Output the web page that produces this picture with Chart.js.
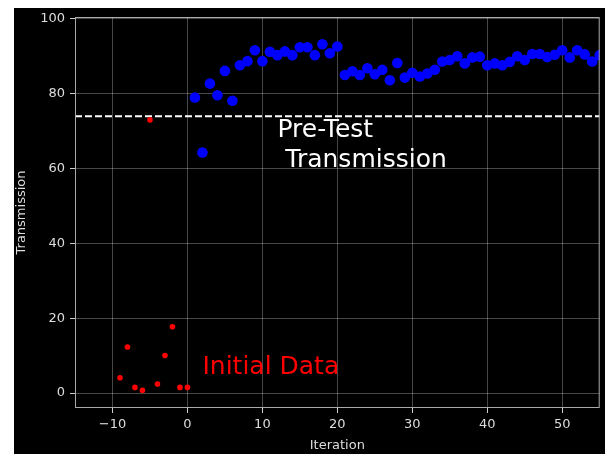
<!DOCTYPE html>
<html>
<head>
<meta charset="utf-8">
<script src="https://cdn.jsdelivr.net/npm/chart.js@4/dist/chart.umd.min.js"></script>
<style>
  body { margin: 0; background: #fff; width: 605px; height: 454px; overflow: hidden; }
  #wrap { position: absolute; left: 14px; top: 8px; width: 591px; height: 446px; background: #000; }
</style>
</head>
<body>
<div id="wrap"><canvas id="myChart" width="591" height="446"></canvas></div>
<script>
// datos iniciales (rojo)
const initialX = [-9, -8, -7, -6, -5, -4, -3, -2, -1, 0];
const initialY = [4.1, 12.3, 1.5, 0.7, 73, 2.4, 10, 17.7, 1.5, 1.5];

// iteraciones (azul)
const iterX = [1, 2, 3, 4, 5, 6, 7, 8, 9, 10, 11, 12, 13, 14, 15, 16, 17, 18, 19, 20,
  21, 22, 23, 24, 25, 26, 27, 28, 29, 30, 31, 32, 33, 34, 35, 36, 37, 38, 39, 40,
  41, 42, 43, 44, 45, 46, 47, 48, 49, 50, 51, 52, 53, 54, 55];
const iterY = [79.0, 64.3, 82.7, 79.6, 86.1, 78.1, 87.6, 88.7, 91.6, 88.7, 91.2, 90.3, 91.3, 90.3, 92.4, 92.4, 90.3, 93.2, 90.8, 92.6,
  85.0, 86.0, 85.0, 86.8, 85.2, 86.4, 83.6, 88.2, 84.3, 85.6, 84.6, 85.4, 86.4, 88.6, 89.0, 90.0, 88.1, 89.7, 89.9, 87.6,
  88.1, 87.6, 88.5, 90.0, 89.0, 90.6, 90.6, 89.8, 90.4, 91.6, 89.7, 91.6, 90.5, 88.6, 90.3];

// linea pre-test
const preTestX = [-15, 55];
const preTestY = [74, 74];

// ticks de los ejes
const xTicks = [-10, 0, 10, 20, 30, 40, 50];
const yTicks = [0, 20, 40, 60, 80, 100];

// textos
const textos = [
  { lines: ["Pre-Test", " Transmission"], x: 12, y: 60.4, color: "#ffffff" },
  { lines: ["Initial Data"], x: 2, y: 5.2, color: "#ff0000" }
];

const toPoints = (xs, ys) => xs.map((x, i) => ({ x: x, y: ys[i] }));
const conMenos = v => String(v).replace("-", "\u2212");

const FONT = "'DejaVu Sans', sans-serif";

// marco de los ejes + textos
const marcoPlugin = {
  id: "marco",
  afterDatasetsDraw(chart) {
    const { ctx, chartArea: a } = chart;
    ctx.save();
    ctx.strokeStyle = "#aaaaaa";
    ctx.lineWidth = 1;
    ctx.strokeRect(a.left + 0.5, a.top + 0.5, a.right - a.left - 1, a.bottom - a.top - 1);
    ctx.restore();
  },
  afterDraw(chart) {
    const { ctx } = chart;
    const xs = chart.scales.x, ys = chart.scales.y;
    ctx.save();
    ctx.font = "25px " + FONT;
    ctx.textBaseline = "alphabetic";
    ctx.textAlign = "left";
    textos.forEach(t => {
      ctx.fillStyle = t.color;
      const px = xs.getPixelForValue(t.x);
      const py = ys.getPixelForValue(t.y);
      const n = t.lines.length;
      t.lines.forEach((line, i) => {
        ctx.fillText(line, px, py - (n - 1 - i) * 30);
      });
    });
    ctx.restore();
  }
};

const gridOpts = {
  color: "rgba(255,255,255,0.28)",
  tickColor: "#cccccc",
  tickLength: 5,
  drawTicks: true
};

const sinPadding = scale => {
  scale.paddingLeft = 0; scale.paddingRight = 0;
  scale.paddingTop = 0; scale.paddingBottom = 0;
};

const config = {
  type: "scatter",
  data: {
    datasets: [
      {
        label: "Initial",
        data: toPoints(initialX, initialY),
        backgroundColor: "#ff0000",
        borderWidth: 0,
        pointRadius: 2.8,
        clip: 0
      },
      {
        label: "Iterations",
        data: toPoints(iterX, iterY),
        backgroundColor: "#0000ff",
        borderWidth: 0,
        pointRadius: 5.3,
        clip: 0
      },
      {
        type: "line",
        label: "Pre-Test",
        data: toPoints(preTestX, preTestY),
        borderColor: "#ffffff",
        borderWidth: 2,
        borderDash: [7, 3],
        pointRadius: 0,
        fill: false,
        clip: 0
      }
    ]
  },
  options: {
    responsive: false,
    animation: false,
    layout: { padding: { top: 9, right: 3.5, left: 0, bottom: 0 } },
    plugins: { legend: { display: false }, tooltip: { enabled: false } },
    scales: {
      x: {
        type: "linear",
        min: -15,
        max: 55,
        border: { display: false },
        grid: gridOpts,
        ticks: { color: "#dddddd", padding: 4, maxRotation: 0, callback: conMenos,
          font: { family: FONT, size: 13 } },
        title: { display: true, text: "Iteration", color: "#dddddd", padding: { top: 0, bottom: 1 },
          font: { family: FONT, size: 13 } },
        afterBuildTicks(scale) { scale.ticks = xTicks.map(v => ({ value: v })); },
        afterFit(scale) {
          scale.height = 46;
          sinPadding(scale);
        }
      },
      y: {
        type: "linear",
        min: -4,
        max: 100.5,
        border: { display: false },
        grid: gridOpts,
        ticks: { color: "#dddddd", padding: 5, callback: conMenos,
          font: { family: FONT, size: 13 } },
        title: { display: true, text: "Transmission", color: "#dddddd", padding: { top: 0, bottom: 0 },
          font: { family: FONT, size: 13 } },
        afterBuildTicks(scale) { scale.ticks = yTicks.map(v => ({ value: v })); },
        afterFit(scale) {
          scale.width = 61;
          sinPadding(scale);
        }
      }
    }
  },
  plugins: [marcoPlugin]
};

new Chart(document.getElementById("myChart"), config);
</script>
</body>
</html>
